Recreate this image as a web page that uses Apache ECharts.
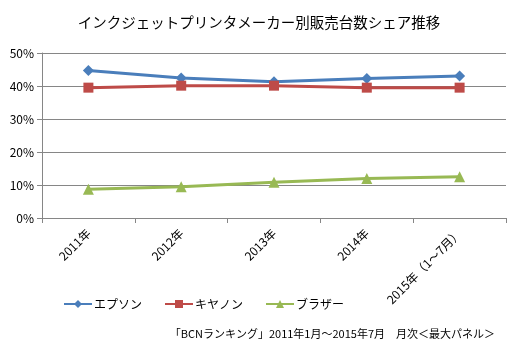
<!DOCTYPE html>
<html>
<head>
<meta charset="utf-8">
<script src="https://cdn.jsdelivr.net/npm/echarts@6/dist/echarts.min.js"></script>
<style>
  html, body { margin: 0; padding: 0; background: #fff; }
  #main { width: 530px; height: 350px; }
</style>
</head>
<body>
<div id="main"></div>
<script>
var years = ['2011年', '2012年', '2013年', '2014年', '2015年（1～7月）'];
var epson = [44.7, 42.4, 41.3, 42.3, 43.0];
var canon = [39.5, 40.1, 40.1, 39.5, 39.5];
var brother = [8.7, 9.5, 10.8, 12.0, 12.5];

var jp = '"Noto Sans CJK JP", sans-serif';
var myChart = echarts.init(document.getElementById('main'));

function line(name, data, color, symbol, size) {
    return {
        name: name,
        type: 'line',
        data: data,
        symbol: symbol,
        symbolSize: size,
        showSymbol: true,
        lineStyle: { color: color, width: 3 },
        itemStyle: { color: color },
        emphasis: { disabled: true }
    };
}

var option = {
    animation: false,
    backgroundColor: '#fff',
    textStyle: { fontFamily: jp },
    title: [{
        text: 'インクジェットプリンタメーカー別販売台数シェア推移',
        left: 254, top: 10, textAlign: 'center',
        textStyle: { fontSize: 14.5, fontWeight: 'normal', color: '#000', fontFamily: jp }
    }, {
        text: '「BCNランキング」2011年1月～2015年7月　月次＜最大パネル＞',
        right: 30, top: 323,
        textStyle: { fontSize: 11, fontWeight: 'normal', color: '#000', fontFamily: jp }
    }],
    legend: {
        left: 58, top: 293,
        itemGap: 22,
        itemWidth: 28, itemHeight: 10,
        textStyle: { fontSize: 12, color: '#000', fontFamily: jp, padding: [0, 0, 0, -3] },
        data: ['エプソン', 'キヤノン', 'ブラザー']
    },
    grid: { left: 42, right: 24, top: 53, bottom: 132 },
    xAxis: {
        type: 'category',
        data: years,
        boundaryGap: true,
        axisLine: { lineStyle: { color: '#868686', width: 1 } },
        axisTick: { show: true, length: 5, lineStyle: { color: '#868686' } },
        axisLabel: { rotate: 45, fontSize: 12, color: '#000', margin: 13, interval: 0, fontFamily: jp }
    },
    yAxis: {
        type: 'value',
        min: 0, max: 50, interval: 10,
        axisLine: { show: true, lineStyle: { color: '#868686' } },
        axisTick: { show: true, length: 5, lineStyle: { color: '#868686' } },
        splitLine: { lineStyle: { color: '#868686', width: 1 } },
        axisLabel: { formatter: '{value}%', fontSize: 12, color: '#000', margin: 8, fontFamily: jp }
    },
    series: [
        line('エプソン', epson, '#4A7EBB', 'diamond', 11),
        line('キヤノン', canon, '#BE4B48', 'rect', 10),
        line('ブラザー', brother, '#98B954', 'triangle', 11)
    ]
};

myChart.setOption(option);
</script>
</body>
</html>
